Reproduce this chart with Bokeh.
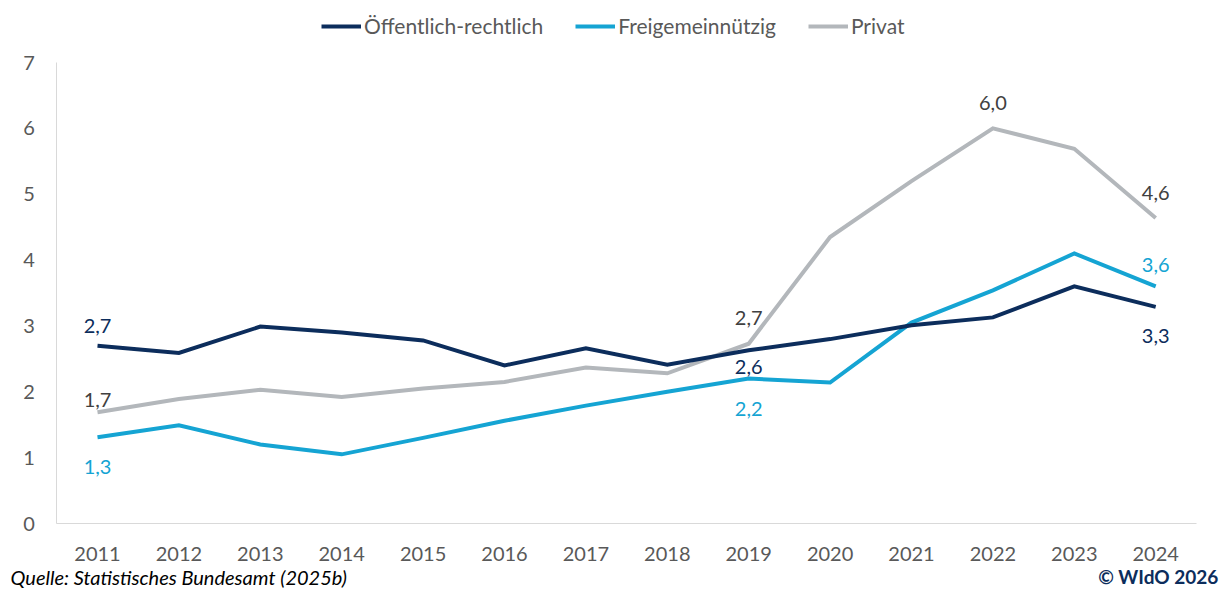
from bokeh.plotting import figure
from bokeh.models import (ColumnDataSource, FixedTicker, Legend, LegendItem, Label,
                          LabelSet, Range1d)
from bokeh.core.properties import value
from bokeh.embed import file_html
from bokeh.resources import INLINE

years = [2011, 2012, 2013, 2014, 2015, 2016, 2017, 2018, 2019, 2020, 2021, 2022, 2023, 2024]
oeffentlich = [2.70, 2.59, 2.99, 2.90, 2.78, 2.40, 2.66, 2.41, 2.63, 2.80, 3.01, 3.13, 3.60, 3.29]
freigemein = [1.31, 1.49, 1.20, 1.05, 1.30, 1.56, 1.79, 2.00, 2.20, 2.14, 3.05, 3.54, 4.10, 3.60]
privat = [1.69, 1.89, 2.03, 1.92, 2.05, 2.15, 2.37, 2.28, 2.73, 4.35, 5.20, 6.00, 5.69, 4.64]
series_names = ["Öffentlich-rechtlich", "Freigemeinnützig", "Privat"]
y_ticks = [0, 1, 2, 3, 4, 5, 6, 7]
labelled_years = {"Öffentlich-rechtlich": [2011, 2019, 2024],
                  "Freigemeinnützig": [2011, 2019, 2024],
                  "Privat": [2011, 2019, 2022, 2024]}
source_text = "Quelle: Statistisches Bundesamt (2025b)"
copyright_text = "© WIdO 2026"

FONT = "Lato"
NAVY = "#0C2D5C"
BLUE = "#15A4D3"
GRAY = "#B3B7BB"
colors = {"Öffentlich-rechtlich": NAVY, "Freigemeinnützig": BLUE, "Privat": GRAY}
label_colors = {"Öffentlich-rechtlich": NAVY, "Freigemeinnützig": BLUE, "Privat": "#404040"}
# label offsets (px, positive = above)
offsets = {("Öffentlich-rechtlich", 2011): 20, ("Öffentlich-rechtlich", 2019): -17,
           ("Öffentlich-rechtlich", 2024): -29,
           ("Freigemeinnützig", 2011): -30, ("Freigemeinnützig", 2019): -30,
           ("Freigemeinnützig", 2024): 21,
           ("Privat", 2011): 12, ("Privat", 2019): 26, ("Privat", 2022): 25,
           ("Privat", 2024): 25}

data = {"Öffentlich-rechtlich": oeffentlich, "Freigemeinnützig": freigemein, "Privat": privat}

# layout geometry (pixels): the frame fills the figure; axes are pinned inside it
W, H = 1220, 590
X0_PX, STEP_PX = 97.0, 81.4          # pixel of first year, pixels per year
Y0_PX, UNIT_PX = 523.0, 461.0 / 7     # pixel of y=0, pixels per unit
x_start = years[0] - X0_PX / STEP_PX
x_end = years[0] + (W - X0_PX) / STEP_PX
y_start = -(H - Y0_PX) / UNIT_PX
y_end = Y0_PX / UNIT_PX

p = figure(width=W, height=H, output_backend="svg", toolbar_location=None,
           x_range=Range1d(x_start, x_end), y_range=Range1d(y_start, y_end),
           min_border=0, min_border_left=0, min_border_right=0,
           min_border_top=0, min_border_bottom=0)
p.outline_line_color = None
p.xgrid.visible = False
p.ygrid.visible = False
p.background_fill_color = "white"
p.border_fill_color = "white"

x_lo, x_hi = years[0] - 0.5, years[-1] + 0.5
for ax in (p.xaxis[0], p.yaxis[0]):
    ax.axis_line_color = "#D9D9D9"
    ax.axis_line_width = 1
    ax.major_tick_line_color = None
    ax.minor_tick_line_color = None
    ax.major_label_text_font = FONT
    ax.major_label_text_font_size = "20px"
    ax.major_label_text_color = "#595959"
p.xaxis.ticker = FixedTicker(ticks=years)
p.yaxis.ticker = FixedTicker(ticks=y_ticks)
p.xaxis.fixed_location = 0
p.yaxis.fixed_location = x_lo
p.xaxis.bounds = (x_lo, x_hi)
p.yaxis.bounds = (y_ticks[0], y_ticks[-1])
p.xaxis.major_label_standoff = 17
p.yaxis.major_label_standoff = 16

renderers = {}
for name in ["Privat", "Freigemeinnützig", "Öffentlich-rechtlich"]:
    renderers[name] = p.line(years, data[name], line_color=colors[name], line_width=4,
                             line_join="miter")

lx, ly, lt, lc, lo = [], [], [], [], []
for name in series_names:
    for yr in labelled_years[name]:
        v = data[name][years.index(yr)]
        lx.append(yr)
        ly.append(v)
        lt.append(f"{v:.1f}".replace(".", ","))
        lc.append(label_colors[name])
        lo.append(offsets[(name, yr)])
lsrc = ColumnDataSource(dict(x=lx, y=ly, text=lt, color=lc, off=lo))
p.add_layout(LabelSet(x="x", y="y", text="text", source=lsrc, y_offset="off",
                      text_color="color", text_align="center", text_baseline="middle",
                      text_font=value(FONT), text_font_size="20px"))

legend = Legend(items=[LegendItem(label=n, renderers=[renderers[n]]) for n in series_names],
                orientation="horizontal", location=(321, H - 38), border_line_color=None,
                background_fill_alpha=0, padding=0, margin=0, spacing=32,
                label_text_font=FONT, label_text_font_size="21px",
                label_text_color="#595959", glyph_width=40, glyph_height=22,
                label_height=22, label_standoff=3)
p.add_layout(legend)

p.add_layout(Label(x=10, y=14, x_units="screen", y_units="screen",
                   text=source_text, text_font=FONT, text_font_style="italic",
                   text_font_size="20px", text_color="#000000", text_baseline="middle"))
p.add_layout(Label(x=1218, y=14, x_units="screen", y_units="screen",
                   text=copyright_text, text_font=FONT, text_font_style="bold",
                   text_font_size="19px", text_color=NAVY, text_align="right",
                   text_baseline="middle"))

open("out.html", "w").write(file_html(p, INLINE))
